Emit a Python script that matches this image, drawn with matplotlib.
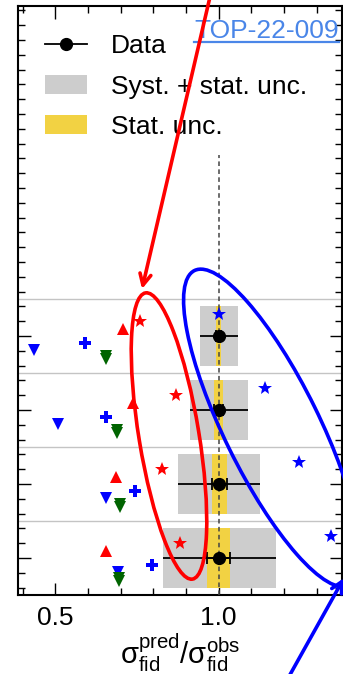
import matplotlib
matplotlib.use("Agg")
import matplotlib.pyplot as plt
import numpy as np
from matplotlib.patches import Ellipse, Patch, FancyArrowPatch
from matplotlib.lines import Line2D
from matplotlib.ticker import MultipleLocator, FixedLocator

plt.rcParams['font.family'] = ['Liberation Sans', 'DejaVu Sans']
plt.rcParams['mathtext.fontset'] = 'custom'
plt.rcParams['mathtext.rm'] = 'Liberation Sans'
plt.rcParams['mathtext.it'] = 'Liberation Sans:italic'

# Fiducial cross-section bins, bottom to top
bins = [0, 1, 2, 3]
data_ratio = [1.0, 1.0, 1.0, 1.0]
tot_lo = [0.171, 0.125, 0.087, 0.058]
tot_hi = [0.176, 0.128, 0.090, 0.061]
stat_lo = [0.035, 0.020, 0.014, 0.007]
stat_hi = [0.036, 0.026, 0.014, 0.007]

# Predictions divided by the observed value, per bin
pred_blue_star = [1.344, 1.247, 1.143, 1.000]
pred_red_star = [0.883, 0.827, 0.870, 0.758]
pred_red_tri = [0.655, 0.686, 0.738, 0.706]
pred_blue_plus = [0.796, 0.745, 0.655, 0.592]
pred_blue_tri = [0.691, 0.654, 0.509, 0.435]
pred_green_tri = [0.694, 0.699, 0.689, 0.655]
pred_green_tri2 = [0.694, 0.699, 0.689, 0.655]

W, H = 343, 674
fig = plt.figure(figsize=(W / 100, H / 100), dpi=100)
ax = fig.add_axes([18 / W, 1 - 595 / H, 324 / W, 589 / H])

y = np.array(bins, dtype=float)
gray = '#cdcdcd'
gold = '#f2d243'

for yi, c, lo, hi, slo, shi in zip(y, data_ratio, tot_lo, tot_hi, stat_lo, stat_hi):
    ax.fill_betweenx([yi - 0.4, yi + 0.4], c - lo, c + hi, color=gray, lw=0, zorder=1)
    ax.fill_betweenx([yi - 0.4, yi + 0.4], c - slo, c + shi, color=gold, lw=0, zorder=2)

for sep in np.arange(0.5, 4.0, 1.0):
    ax.axhline(sep, color='#c4c4c4', lw=1.0, zorder=0.5)

ax.plot([1.0, 1.0], [-0.5, 5.45], ls=(0, (3, 2.2)), color='#444444', lw=1.1, zorder=3)

ax.errorbar(data_ratio, y, xerr=[tot_lo, tot_hi], fmt='none', ecolor='black',
            elinewidth=1.3, capsize=0, zorder=4)
ax.errorbar(data_ratio, y, xerr=[stat_lo, stat_hi], fmt='o', color='black',
            ms=8.5, elinewidth=1.3, capsize=4.5, capthick=1.3, zorder=5)

preds = [
    (pred_blue_star, 0.30, '*', 'blue', 10),
    (pred_red_star, 0.20, '*', 'red', 10),
    (pred_red_tri, 0.10, '^', 'red', 9),
    (pred_blue_plus, -0.10, 'P', 'blue', 8.5),
    (pred_blue_tri, -0.19, 'v', 'blue', 9),
    (pred_green_tri, -0.27, 'v', 'darkgreen', 9),
    (pred_green_tri2, -0.31, 'v', 'darkgreen', 9),
]
for vals, off, m, col, ms in preds:
    ax.plot(vals, y + off, ls='none', marker=m, color=col, ms=ms, mew=0, zorder=6)

ax.set_xlim(0.386, 1.378)
ax.set_ylim(-0.5, 7.46)
ax.xaxis.set_major_locator(FixedLocator([0.5, 1.0]))
ax.xaxis.set_minor_locator(MultipleLocator(0.1))
ax.set_xticklabels(['0.5', '1.0'])
ax.yaxis.set_major_locator(FixedLocator(bins))
ax.yaxis.set_minor_locator(MultipleLocator(0.2))
ax.set_yticklabels([])
ax.tick_params(which='both', direction='in', top=True, right=True, labelsize=19, width=1.0)
ax.tick_params(which='major', length=9)
ax.tick_params(which='minor', length=5)
ax.tick_params(axis='x', pad=8)
for s in ax.spines.values():
    s.set_linewidth(1.5)

ax.set_xlabel(r'$\mathrm{\sigma}_{\mathrm{fid}}^{\mathrm{pred}}/\mathrm{\sigma}_{\mathrm{fid}}^{\mathrm{obs}}$',
              fontsize=21, labelpad=1)

handles = [
    Line2D([], [], color='black', marker='o', ms=8.5, lw=1.3),
    Patch(facecolor=gray, edgecolor='none'),
    Patch(facecolor=gold, edgecolor='none'),
]
labels = ['Data', 'Syst. + stat. unc.', 'Stat. unc.']
ax.legend(handles, labels, loc='upper left', bbox_to_anchor=(0.05, 0.97), frameon=False,
          fontsize=19, handlelength=1.6, handleheight=0.75, handletextpad=0.9,
          labelspacing=0.62, borderaxespad=0)

tag = ax.text(0.99, 0.978, 'TOP-22-009', transform=ax.transAxes, ha='right', va='top',
              fontsize=19, color='#4a86e8', zorder=7)
fig.canvas.draw()
bb = tag.get_window_extent().transformed(fig.transFigure.inverted())
fig.add_artist(Line2D([bb.x0, bb.x1], [bb.y0 + 0.001, bb.y0 + 0.001], color='#4a86e8',
                      lw=1.6, transform=fig.transFigure))

# Highlight overlay in pixel coordinates (origin bottom-left)
ov = fig.add_axes([0, 0, 1, 1], zorder=10)
ov.set_xlim(0, W)
ov.set_ylim(0, H)
ov.axis('off')
ov.patch.set_alpha(0)

ov.add_patch(Ellipse((169, 238), 290, 60, angle=-80.7, fill=False, ec='red', lw=2.6))
ov.add_patch(Ellipse((272, 246), 351, 95, angle=-63.8, fill=False, ec='blue', lw=2.6))
ov.add_patch(FancyArrowPatch((213, 690), (142, 385), arrowstyle='->,head_length=8,head_width=4',
                             color='red', lw=2.6, mutation_scale=1, shrinkA=0, shrinkB=0))
ov.add_patch(FancyArrowPatch((282, -15), (344, 96), arrowstyle='->,head_length=8,head_width=4',
                             color='blue', lw=2.6, mutation_scale=1, shrinkA=0, shrinkB=0))

fig.savefig('out.png', dpi=100)
